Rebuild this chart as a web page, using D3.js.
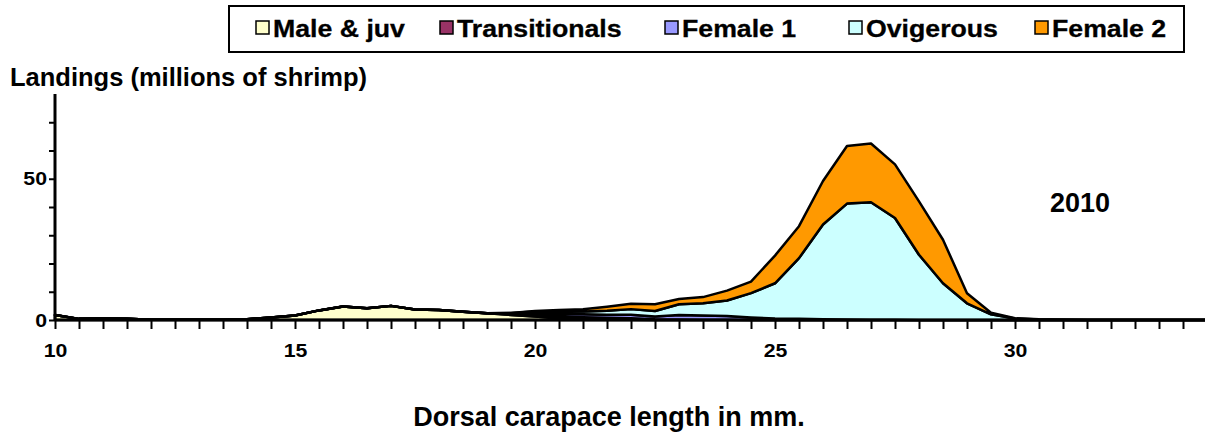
<!DOCTYPE html>
<html>
<head>
<meta charset="utf-8">
<script src="https://cdn.jsdelivr.net/npm/d3@7"></script>
<style>
  body { margin: 0; background: #fff; }
  svg { display: block; font-family: "Liberation Sans", Arial, sans-serif; font-weight: bold; }
</style>
</head>
<body>
<svg id="chart" width="1205" height="435"></svg>
<script>
// carapace length classes, 10 to 34 mm by 0.5
var lengths = [10, 10.5, 11, 11.5, 12, 12.5, 13, 13.5, 14, 14.5, 15, 15.5, 16, 16.5, 17, 17.5,
  18, 18.5, 19, 19.5, 20, 20.5, 21, 21.5, 22, 22.5, 23, 23.5, 24, 24.5, 25, 25.5,
  26, 26.5, 27, 27.5, 28, 28.5, 29, 29.5, 30, 30.5, 31, 31.5, 32, 32.5, 33, 33.5, 34];

var seriesNames = ['Male & juv', 'Transitionals', 'Female 1', 'Ovigerous', 'Female 2'];
var seriesColors = ['#FFFFCC', '#993366', '#9999FF', '#CCFFFF', '#FF9900'];

var maleJuv = [1.8, 0.4, 0.5, 0.4, 0.1, 0.1, 0.1, 0.1, 0.3, 0.9, 1.6, 3.4, 4.8, 4.2, 5.0, 3.7,
  3.5, 2.9, 2.4, 1.8, 1.2, 0.6, 0.2, 0.1, 0.05, 0, 0, 0, 0, 0, 0, 0,
  0, 0, 0, 0, 0, 0, 0, 0, 0, 0, 0, 0, 0, 0, 0, 0, 0];
var transitionals = [0, 0, 0, 0, 0, 0, 0, 0, 0, 0, 0, 0, 0, 0, 0, 0,
  0, 0, 0, 0.2, 0.5, 0.7, 0.8, 0.7, 0.6, 0.3, 0.2, 0.1, 0.1, 0, 0, 0,
  0, 0, 0, 0, 0, 0, 0, 0, 0, 0, 0, 0, 0, 0, 0, 0, 0];
var female1 = [0, 0, 0, 0, 0, 0, 0, 0, 0, 0, 0, 0, 0, 0, 0, 0,
  0, 0, 0, 0.3, 0.6, 0.9, 1.0, 1.1, 1.2, 0.9, 1.6, 1.5, 1.3, 0.9, 0.5, 0.4,
  0.3, 0.2, 0.1, 0.1, 0, 0, 0, 0, 0, 0, 0, 0, 0, 0, 0, 0, 0];
var ovigerous = [0, 0, 0, 0, 0, 0, 0, 0, 0, 0, 0, 0, 0, 0, 0, 0,
  0, 0, 0, 0.2, 0.7, 0.9, 1.0, 1.4, 2.0, 2.0, 3.8, 4.3, 5.5, 8.6, 12.5, 21.5,
  33.5, 41.0, 41.6, 36.0, 23.1, 13.0, 5.9, 2.0, 0.5, 0.2, 0.1, 0, 0, 0, 0, 0, 0];
var female2 = [0, 0, 0, 0, 0, 0, 0, 0, 0, 0, 0, 0, 0, 0, 0, 0,
  0, 0, 0, 0, 0.2, 0.4, 0.8, 1.4, 1.9, 2.4, 1.8, 2.2, 3.5, 4.1, 9.8, 11.3,
  15.4, 20.4, 20.8, 19.0, 18.9, 15.4, 3.6, 0.6, 0.1, 0.05, 0, 0, 0, 0, 0, 0, 0];

var yTicks = [0, 10, 20, 30, 40, 50, 60, 70];
var yLabels = [0, 50];
var xLabels = [10, 15, 20, 25, 30];

var rows = lengths.map(function(len, i) {
  return {
    len: len,
    'Male & juv': maleJuv[i],
    'Transitionals': transitionals[i],
    'Female 1': female1[i],
    'Ovigerous': ovigerous[i],
    'Female 2': female2[i]
  };
});

// widen text glyphs a bit, the original labels look stretched
function stretch(sel, factor) {
  sel.each(function() {
    var len = this.getComputedTextLength();
    if (len > 0) {
      d3.select(this)
        .attr('textLength', len * factor)
        .attr('lengthAdjust', 'spacingAndGlyphs');
    }
  });
}

var svg = d3.select('#chart');

var x = d3.scaleLinear().domain([10, 34]).range([55, 1207]);
var y = d3.scaleLinear().domain([0, 80]).range([320, 94]);

var stack = d3.stack().keys(seriesNames);
var layers = stack(rows);

var area = d3.area()
  .x(function(d) { return x(d.data.len); })
  .y0(function(d) { return y(d[0]); })
  .y1(function(d) { return y(d[1]); });

svg.append('g').selectAll('path')
  .data(layers)
  .join('path')
  .attr('d', area)
  .attr('fill', function(d, i) { return seriesColors[i]; })
  .attr('stroke', '#000')
  .attr('stroke-width', 2.5)
  .attr('stroke-linejoin', 'round');

// x axis
var xAxis = d3.axisBottom(x)
  .tickValues(lengths)
  .tickSize(9)
  .tickFormat(function(d) { return xLabels.indexOf(d) >= 0 ? d : ''; });

var gx = svg.append('g')
  .attr('transform', 'translate(0,320)')
  .call(xAxis);
gx.select('.domain').attr('stroke-width', 3).attr('d', 'M55,0H1205');
gx.selectAll('.tick line').attr('stroke-width', 2);
gx.selectAll('.tick text')
  .attr('y', 24)
  .attr('font-size', 19)
  .attr('font-weight', 'bold')
  .attr('font-family', '"Liberation Sans", Arial, sans-serif')
  .attr('fill', '#000')
  .call(stretch, 1.12);

// y axis
var yAxis = d3.axisLeft(y)
  .tickValues(yTicks)
  .tickSize(6)
  .tickFormat(function(d) { return yLabels.indexOf(d) >= 0 ? d : ''; });

var gy = svg.append('g')
  .attr('transform', 'translate(55,0)')
  .call(yAxis);
gy.select('.domain').attr('stroke-width', 3).attr('d', 'M0,94V321');
gy.selectAll('.tick line').attr('stroke-width', 2);
gy.selectAll('.tick text')
  .attr('x', -8)
  .attr('font-size', 19)
  .attr('font-weight', 'bold')
  .attr('font-family', '"Liberation Sans", Arial, sans-serif')
  .attr('fill', '#000')
  .call(stretch, 1.12);

// titles
svg.append('text')
  .attr('x', 10).attr('y', 86)
  .attr('font-size', 25.5)
  .text('Landings (millions of shrimp)');

svg.append('text')
  .attr('x', 609).attr('y', 426)
  .attr('text-anchor', 'middle')
  .attr('font-size', 27)
  .text('Dorsal carapace length in mm.');

svg.append('text')
  .attr('x', 1080).attr('y', 212)
  .attr('text-anchor', 'middle')
  .attr('font-size', 27)
  .text('2010');

// legend
var legend = svg.append('g');
legend.append('rect')
  .attr('x', 229).attr('y', 6)
  .attr('width', 955).attr('height', 46)
  .attr('fill', '#fff')
  .attr('stroke', '#000')
  .attr('stroke-width', 2);

var legendX = [256, 440, 665, 849, 1035];
var item = legend.selectAll('g.item')
  .data(seriesNames)
  .join('g')
  .attr('class', 'item')
  .attr('transform', function(d, i) { return 'translate(' + legendX[i] + ',0)'; });

item.append('rect')
  .attr('x', 0).attr('y', 21)
  .attr('width', 13).attr('height', 13)
  .attr('fill', function(d, i) { return seriesColors[i]; })
  .attr('stroke', '#000')
  .attr('stroke-width', 1.5);

item.append('text')
  .attr('x', 17).attr('y', 36.5)
  .attr('font-size', 23)
  .attr('stroke', '#000')
  .attr('stroke-width', 0.3)
  .text(function(d) { return d; })
  .call(stretch, 1.16);
</script>
</body>
</html>
